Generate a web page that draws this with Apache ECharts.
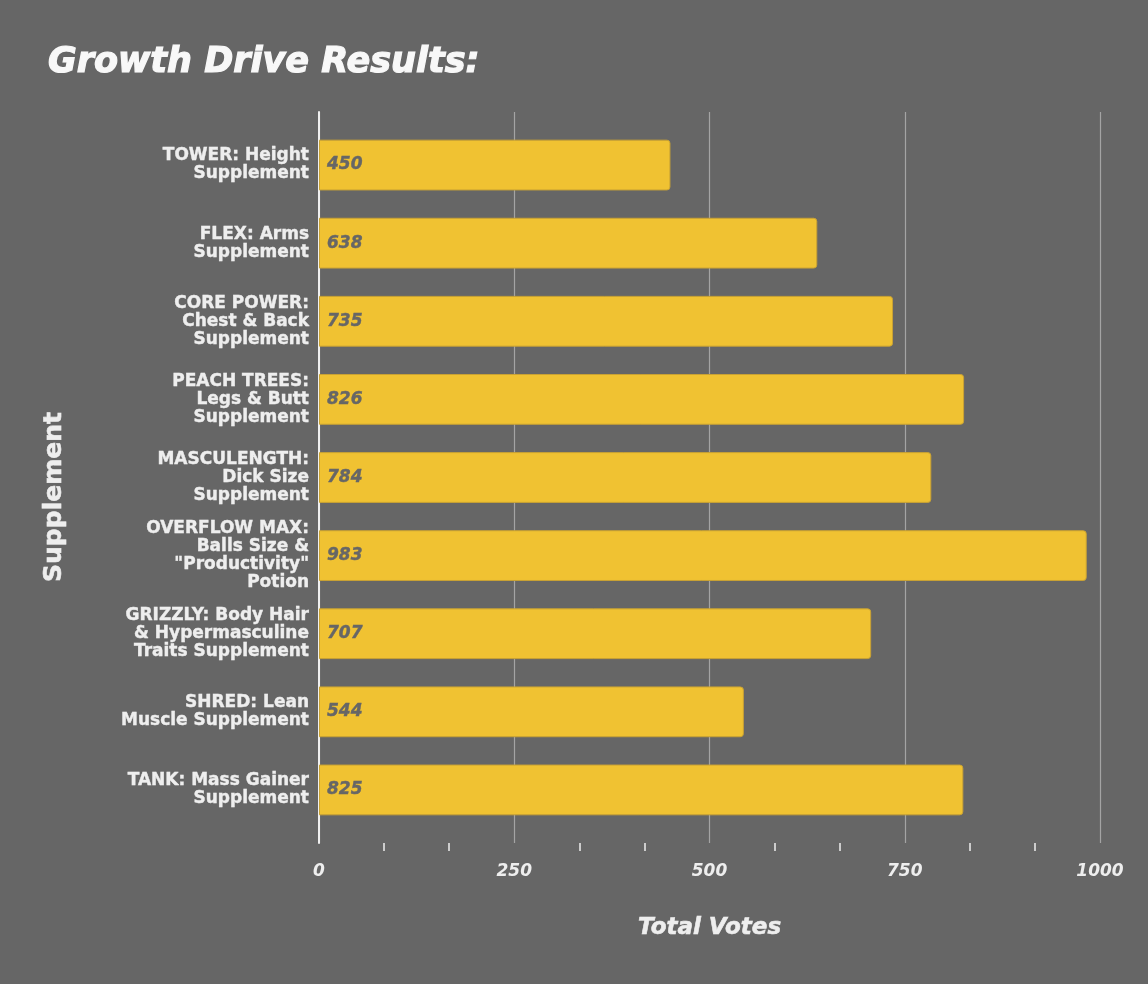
<!DOCTYPE html>
<html>
<head>
<meta charset="utf-8">
<title>Growth Drive Results</title>
<script src="https://cdn.jsdelivr.net/npm/echarts@6/dist/echarts.min.js"></script>
<style>
  html, body { margin: 0; padding: 0; background: #666666; }
  #chart { width: 1148px; height: 984px; }
</style>
</head>
<body>
<div id="chart"></div>
<script>
// Categories, top to bottom as shown
const supplements = [
  'TOWER: Height\nSupplement',
  'FLEX: Arms\nSupplement',
  'CORE POWER:\nChest & Back\nSupplement',
  'PEACH TREES:\nLegs & Butt\nSupplement',
  'MASCULENGTH:\nDick Size\nSupplement',
  'OVERFLOW MAX:\nBalls Size &\n"Productivity"\nPotion',
  'GRIZZLY: Body Hair\n& Hypermasculine\nTraits Supplement',
  'SHRED: Lean\nMuscle Supplement',
  'TANK: Mass Gainer\nSupplement'
];
const totalVotes = [450, 638, 735, 826, 784, 983, 707, 544, 825];
const voteTicks = [0, 250, 500, 750, 1000];

const font = 'DejaVu Sans';
const chart = echarts.init(document.getElementById('chart'));

chart.setOption({
  backgroundColor: '#666666',
  animation: false,
  title: {
    text: 'Growth Drive Results:',
    left: 43,
    top: 40,
    textStyle: {
      color: '#f8f8f8',
      fontFamily: font,
      fontSize: 35,
      fontStyle: 'italic',
      fontWeight: 'bold',
      textBorderColor: '#f8f8f8',
      textBorderWidth: 1.2
    }
  },
  // grid 0: gridlines, axis line, ticks; grid 1: the bars with category bands
  grid: [
    { left: 319, right: 48, top: 112, bottom: 141 },
    { left: 319, right: 48, top: 126, bottom: 155 }
  ],
  xAxis: [
    {
      gridIndex: 0,
      type: 'value',
      min: voteTicks[0],
      max: voteTicks[voteTicks.length - 1],
      interval: 250,
      name: 'Total Votes',
      nameLocation: 'middle',
      nameGap: 74,
      nameTextStyle: {
        color: '#eeeeee',
        fontFamily: font,
        fontSize: 23,
        fontStyle: 'italic',
        fontWeight: 'bold',
        textBorderColor: '#eeeeee',
        textBorderWidth: 0.6
      },
      axisLine: { show: false },
      axisTick: { show: false },
      minorTick: {
        show: true,
        splitNumber: 3,
        length: 8,
        lineStyle: { color: '#eeeeee', width: 1.5 }
      },
      axisLabel: {
        margin: 20,
        color: '#eeeeee',
        fontFamily: font,
        fontSize: 17,
        fontStyle: 'italic',
        fontWeight: 'bold',
        formatter: (v) => String(v)
      },
      splitLine: { show: true, lineStyle: { color: '#a4a4a4', width: 1.2 } }
    },
    {
      gridIndex: 1,
      type: 'value',
      min: voteTicks[0],
      max: voteTicks[voteTicks.length - 1],
      show: false
    }
  ],
  yAxis: [
    {
      gridIndex: 0,
      type: 'value',
      axisLine: { show: true, lineStyle: { color: '#f0f0f0', width: 2 } },
      axisTick: { show: false },
      axisLabel: { show: false },
      splitLine: { show: false }
    },
    {
      gridIndex: 1,
      type: 'category',
      inverse: true,
      data: supplements,
      name: 'Supplement',
      nameLocation: 'middle',
      nameGap: 252,
      nameTextStyle: {
        color: '#eeeeee',
        fontFamily: font,
        fontSize: 25,
        fontWeight: 'bold',
        textBorderColor: '#eeeeee',
        textBorderWidth: 0.6,
        padding: [0, 39, 0, 0]
      },
      axisLine: { show: false },
      axisTick: { show: false },
      axisLabel: {
        margin: 10,
        color: '#eeeeee',
        fontFamily: font,
        fontSize: 17,
        fontWeight: 'bold',
        lineHeight: 18,
        align: 'right',
        textBorderColor: '#eeeeee',
        textBorderWidth: 0.4
      }
    }
  ],
  series: [
    {
      type: 'bar',
      xAxisIndex: 1,
      yAxisIndex: 1,
      data: totalVotes,
      barCategoryGap: '35%',
      itemStyle: {
        color: '#f0c232',
        borderColor: '#c9a233',
        borderWidth: 1,
        borderRadius: [0, 3, 3, 0]
      },
      label: {
        show: true,
        position: 'insideLeft',
        distance: 8,
        color: '#666666',
        fontFamily: font,
        fontSize: 17,
        fontStyle: 'italic',
        fontWeight: 'bold',
        textBorderColor: '#666666',
        textBorderWidth: 0.4
      }
    }
  ]
});
</script>
</body>
</html>
